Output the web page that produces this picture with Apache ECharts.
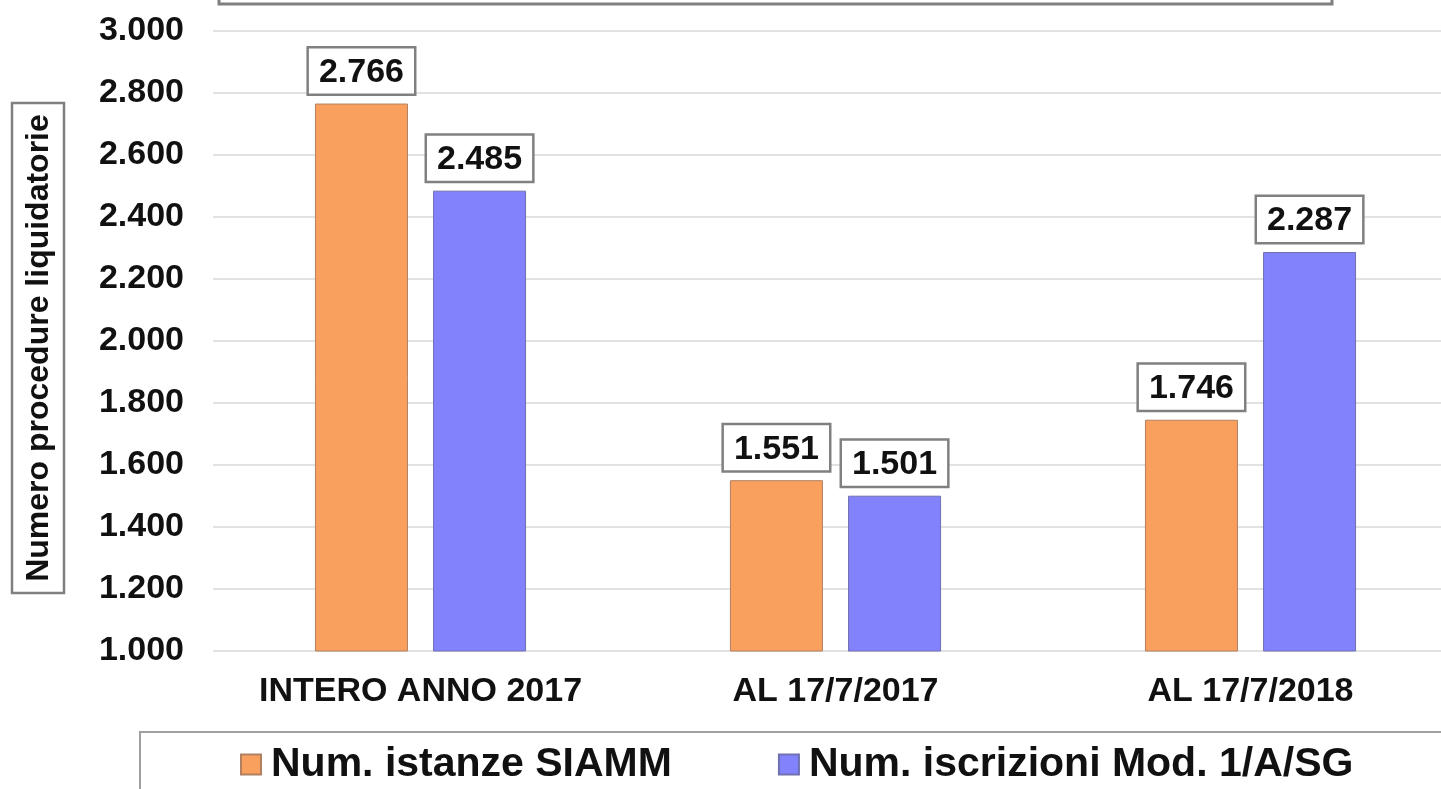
<!DOCTYPE html>
<html><head><meta charset="utf-8">
<script src="https://cdn.jsdelivr.net/npm/echarts@6/dist/echarts.min.js"></script>
<style>html,body{margin:0;padding:0;background:#fff;overflow:hidden}#c{width:1462px;height:789px}</style>
</head><body><div id="c"></div>
<script>
const categories = ['INTERO ANNO 2017', 'AL 17/7/2017', 'AL 17/7/2018'];
const seriesNames = ['Num. istanze SIAMM', 'Num. iscrizioni Mod. 1/A/SG'];
const istanze = [2766, 1551, 1746];
const iscrizioni = [2485, 1501, 2287];
const yAxisTitle = 'Numero procedure liquidatorie';

const FONT = '"Liberation Sans", Arial, sans-serif';
const fmt = v => {
  const s = String(Math.round(v));
  return s.replace(/\B(?=(\d{3})+(?!\d))/g, '.');
};
const labelStyle = {
  show: true, position: 'top', distance: 10,
  formatter: p => fmt(p.value),
  fontFamily: FONT, fontWeight: 'bold', fontSize: 34, color: '#111',
  backgroundColor: '#fff', borderColor: '#808080', borderWidth: 2.5,
  padding: [7, 10, 4, 10]
};
const chart = echarts.init(document.getElementById('c'), null, {renderer: 'canvas'});
chart.setOption({
  animation: false,
  backgroundColor: '#fff',
  grid: {left: 213, top: 31, width: 1245, height: 620, containLabel: false},
  legend: {
    data: seriesNames, left: 235, top: 739,
    itemWidth: 20, itemHeight: 20, itemGap: 106,
    icon: 'rect',
    textStyle: {fontFamily: FONT, fontWeight: 'bold', fontSize: 41, color: '#111', padding: [0, 0, 0, 5]}
  },
  xAxis: {
    type: 'category', data: categories,
    axisLine: {show: false}, axisTick: {show: false},
    axisLabel: {interval: 0, fontFamily: FONT, fontWeight: 'bold', fontSize: 34, color: '#111', margin: 24}
  },
  yAxis: {
    type: 'value', min: 1000, max: 3000, interval: 200,
    axisLine: {show: false}, axisTick: {show: false},
    axisLabel: {fontFamily: FONT, fontWeight: 'bold', fontSize: 34, color: '#111', margin: 29, formatter: fmt},
    splitLine: {lineStyle: {color: '#d9d9d9', width: 1.5}}
  },
  series: [
    {name: seriesNames[0], type: 'bar', data: istanze, barWidth: 93, barGap: '27%',
     itemStyle: {color: '#FAA05E', borderColor: '#b08060', borderWidth: 1}, label: labelStyle},
    {name: seriesNames[1], type: 'bar', data: iscrizioni, barWidth: 93,
     itemStyle: {color: '#8282FC', borderColor: '#7070b0', borderWidth: 1}, label: labelStyle}
  ],
  graphic: [
    {type: 'rect', shape: {x: 219, y: -60, width: 1113, height: 64}, style: {fill: 'none', stroke: '#808080', lineWidth: 3}},
    {type: 'rect', shape: {x: 140, y: 732, width: 1360, height: 100}, style: {fill: 'none', stroke: '#a0a0a0', lineWidth: 2}, z: -1},
    {type: 'rect', shape: {x: 12, y: 103, width: 52, height: 490}, style: {fill: '#fff', stroke: '#808080', lineWidth: 2.5}},
    {type: 'text', x: 39, y: 348, rotation: Math.PI / 2,
     style: {text: yAxisTitle, fontFamily: FONT, fontWeight: 'bold', fontSize: 32, fill: '#111', align: 'center', verticalAlign: 'middle'}}
  ]
});
</script></body></html>
